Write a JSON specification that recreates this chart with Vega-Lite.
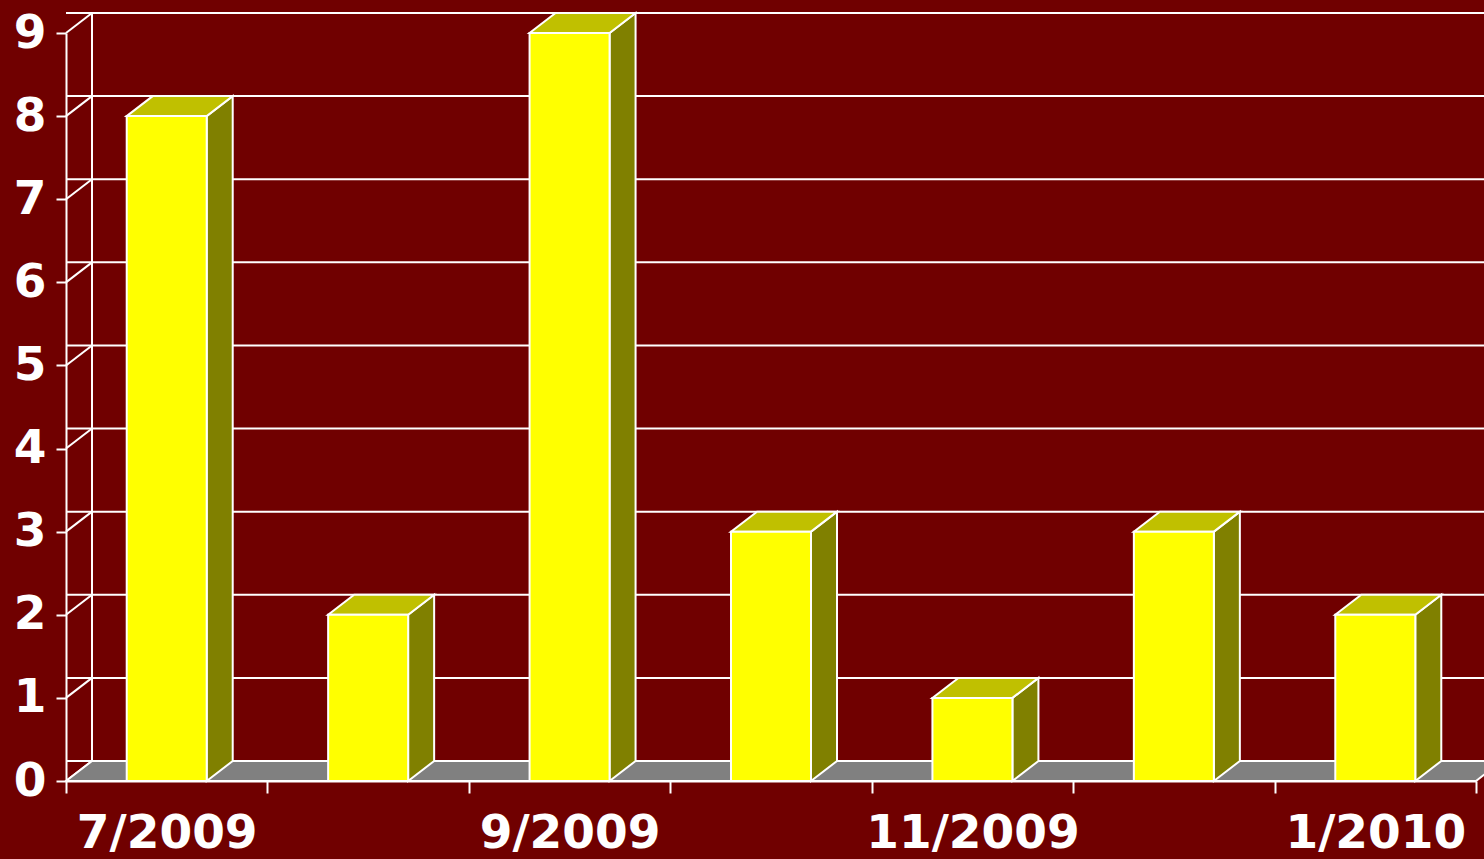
{
  "$schema": "https://vega.github.io/schema/vega-lite/v6.json",
  "width": 1410,
  "height": 748,
  "autosize": {"type": "none"},
  "padding": {"left": 66, "top": 33, "right": 8, "bottom": 78},
  "background": "#700000",
  "config": {
    "view": {"stroke": null},
    "axis": {
      "labelFont": "DejaVu Sans",
      "labelFontWeight": "bold",
      "labelFontSize": 47,
      "labelColor": "#ffffff",
      "domainColor": "#ffffff",
      "domainWidth": 2,
      "tickColor": "#ffffff",
      "tickWidth": 2,
      "grid": false,
      "title": null,
      "labelLimit": 0
    }
  },
  "datasets": {
    "months": [
      {"month": "7/2009", "count": 8},
      {"month": "8/2009", "count": 2},
      {"month": "9/2009", "count": 9},
      {"month": "10/2009", "count": 3},
      {"month": "11/2009", "count": 1},
      {"month": "12/2009", "count": 3},
      {"month": "1/2010", "count": 2}
    ],
    "grid": [
      {"g": 0}, {"g": 1}, {"g": 2}, {"g": 3}, {"g": 4},
      {"g": 5}, {"g": 6}, {"g": 7}, {"g": 8}, {"g": 9}
    ]
  },
  "layer": [
    {
      "data": {"name": "grid"},
      "mark": {"type": "rule", "color": "#ffffff", "strokeWidth": 2, "xOffset": 26, "x2Offset": 26, "yOffset": -20, "clip": false},
      "encoding": {
        "y": {"field": "g", "type": "quantitative", "scale": {"domain": [0, 9], "nice": false, "zero": true}, "axis": {"values": [0,1,2,3,4,5,6,7,8,9], "format": "d", "tickSize": 10, "labelPadding": 10, "domain": true}}
      }
    },
    {
      "data": {"name": "grid"},
      "mark": {"type": "point", "shape": "M -1 0.769231 L 1 -0.769231", "size": 676, "filled": false, "stroke": "#ffffff", "strokeWidth": 2, "opacity": 1, "xOffset": 13, "yOffset": -10},
      "encoding": {
        "x": {"datum": "7/2009", "bandPosition": 0},
        "y": {"field": "g", "type": "quantitative"}
      }
    },
    {
      "data": {"name": "grid"},
      "mark": {"type": "rule", "color": "#ffffff", "strokeWidth": 2, "xOffset": 26, "yOffset": -20, "y2Offset": -20},
      "encoding": {
        "x": {"datum": "7/2009", "bandPosition": 0},
        "y": {"datum": 0},
        "y2": {"datum": 9}
      }
    },
    {
      "data": {"values": [{"floor": "floor"}]},
      "mark": {"type": "point", "shape": "M -1 0.013928 L 0.963788 0.013928 L 1 -0.013928 L -0.963788 -0.013928 Z", "size": 2062096, "filled": true, "fill": "#808080", "stroke": "#ffffff", "strokeWidth": 2, "opacity": 1, "xOffset": 13, "yOffset": -10},
      "encoding": {
        "x": {"datum": "10/2009", "bandPosition": 0.5},
        "y": {"datum": 0}
      }
    },
    {
      "data": {"name": "months"},
      "transform": [{"fold": ["count", "month"], "as": ["face", "fv"]}],
      "mark": {
        "type": "area",
        "orient": "vertical",
        "fill": "#808000",
        "stroke": "#ffffff",
        "strokeWidth": 2,
        "opacity": 1,
        "xOffset": {"expr": "datum.face === 'count' ? 40 : 66"},
        "yOffset": {"expr": "datum.face === 'count' ? 0 : -20"},
        "y2Offset": {"expr": "datum.face === 'count' ? 0 : -20"}
      },
      "encoding": {
        "x": {"field": "month", "type": "nominal", "bandPosition": 0.5},
        "y": {"field": "count", "type": "quantitative", "stack": null},
        "y2": {"datum": 0},
        "detail": {"field": "month"}
      }
    },
    {
      "data": {"name": "months"},
      "mark": {"type": "point", "shape": "M -1 0.188679 L 0.509434 0.188679 L 1 -0.188679 L -0.509434 -0.188679 Z", "size": 11236, "filled": true, "fill": "#c0c000", "stroke": "#ffffff", "strokeWidth": 2, "opacity": 1, "xOffset": 13, "yOffset": -10},
      "encoding": {
        "x": {"field": "month", "type": "nominal", "bandPosition": 0.5},
        "y": {"field": "count", "type": "quantitative"}
      }
    },
    {
      "data": {"name": "months"},
      "mark": {"type": "bar", "width": 80, "fill": "#ffff00", "stroke": "#ffffff", "strokeWidth": 2},
      "encoding": {
        "x": {
          "field": "month",
          "type": "nominal",
          "scale": {"domain": ["7/2009", "8/2009", "9/2009", "10/2009", "11/2009", "12/2009", "1/2010"], "paddingInner": 0, "paddingOuter": 0},
          "axis": {
            "orient": "bottom",
            "tickBand": "extent",
            "tickSize": 12,
            "labelAngle": 0,
            "labelAlign": "center",
            "labelOffset": 0,
            "labelPadding": 40,
            "labelOverlap": false,
            "labelBound": false,
            "labelFlush": false,
            "labelExpr": "indexof(['7/2009','9/2009','11/2009','1/2010'], datum.value) >= 0 ? datum.label : ''"
          }
        },
        "y": {"field": "count", "type": "quantitative"}
      }
    }
  ]
}
